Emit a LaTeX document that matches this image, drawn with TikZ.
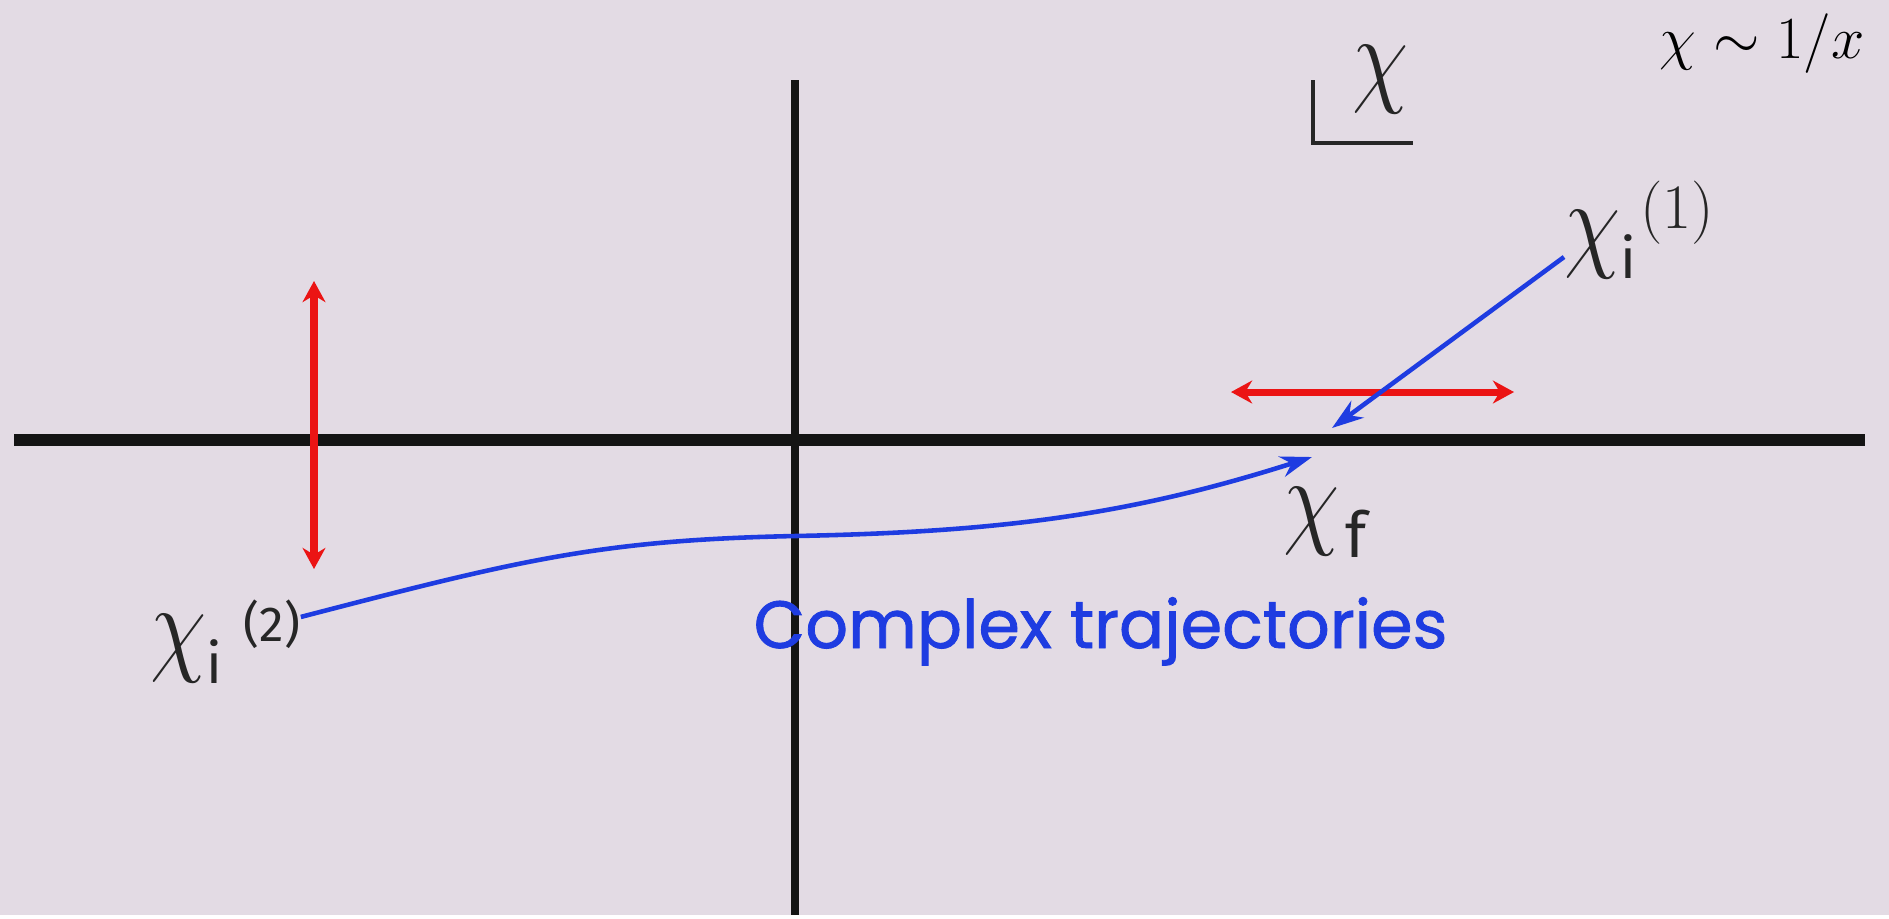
\RequirePackage{fix-cm}
\documentclass[tikz,border=0pt]{standalone}
\usepackage{amsmath,amssymb}
\usepackage{fontspec}
\setsansfont{Fira Sans}
\newfontfamily\comicfont[FakeBold=1.2]{Poppins}
\usepackage{graphicx}
\usepackage{xcolor}
\usepackage{tikz}
\usetikzlibrary{arrows.meta}
\definecolor{slidebg}{RGB}{227,219,228}
\definecolor{trajblue}{RGB}{30,60,225}
\definecolor{dirred}{RGB}{235,20,20}
\newcommand{\chiglyph}{\scalebox{0.84}[1]{$\chi$}}
\tikzset{
  axisline/.style={line width=3.2pt, black!92},
  dirarrow/.style={{Stealth[length=6pt,width=6.5pt]}-{Stealth[length=6pt,width=6.5pt]}, line width=2pt, dirred},
  traj/.style={-{Stealth[length=9pt,width=6pt]}, line width=1.3pt, trajblue},
  chilabel/.style={font=\fontsize{31}{33}\selectfont, inner sep=0pt, text=black!85},
}

\begin{document}
\begin{tikzpicture}[x=0.01cm,y=-0.01cm]
  \fill[slidebg] (0,0) rectangle (1889,915);
  % axes
  \coordinate (xl) at (14,440);
  \coordinate (xr) at (1865,440);
  \coordinate (yt) at (795,80);
  \coordinate (yb) at (795,915);
  \draw[axisline] (xl) -- (xr);
  \draw[line width=2.1pt, black!92] (yt) -- (yb);
  % plane label
  \draw[line width=1.4pt, black!85] (1313,80) |- (1413,143);
  \node[chilabel] (chiplane) at (1381,80) {\chiglyph};
  \node[font=\fontsize{17}{19}\selectfont, inner sep=0pt] (relation) at (1762,44) {$\chi\sim 1/x$};
  % directions
  \coordinate (vtop) at (314,281);
  \coordinate (vbot) at (314,569);
  \coordinate (hleft) at (1231,392);
  \coordinate (hright) at (1514,392);
  \draw[dirarrow] (vtop) -- (vbot);
  \draw[dirarrow] (hleft) -- (hright);
  % end points
  \node[chilabel, anchor=base west] (chione) at (1564,257)
    {\chiglyph\raisebox{-6pt}{\sffamily\fontsize{16}{16}\selectfont i}\kern1pt\raisebox{8.2pt}{\fontsize{18}{18}\selectfont(1)}};
  \node[chilabel, anchor=base west] (chitwo) at (150,661)
    {\chiglyph\raisebox{-6.3pt}{\sffamily\fontsize{16}{16}\selectfont i}\kern6pt\raisebox{5.6pt}{\sffamily\fontsize{14}{14}\selectfont(2)}};
  \node[chilabel, anchor=base west] (chif) at (1283,534)
    {\chiglyph\kern1.5pt\raisebox{-6.8pt}{\sffamily\fontsize{18}{18}\selectfont f}};
  \coordinate (tipone) at (1332,428);
  \coordinate (tiptwo) at (1312,457);
  % trajectories
  \draw[traj] (chione.base west) -- (tipone);
  \draw[traj] (chitwo.18) .. controls (520,560) and (600,540) .. (795,536)
    .. controls (1000,532) and (1130,515) .. (tiptwo);
  \node[font=\comicfont\fontsize{19}{21}\selectfont, text=trajblue, anchor=base west, inner sep=0pt] (caption) at (753,648) {Complex trajectories};
\end{tikzpicture}
\end{document}
